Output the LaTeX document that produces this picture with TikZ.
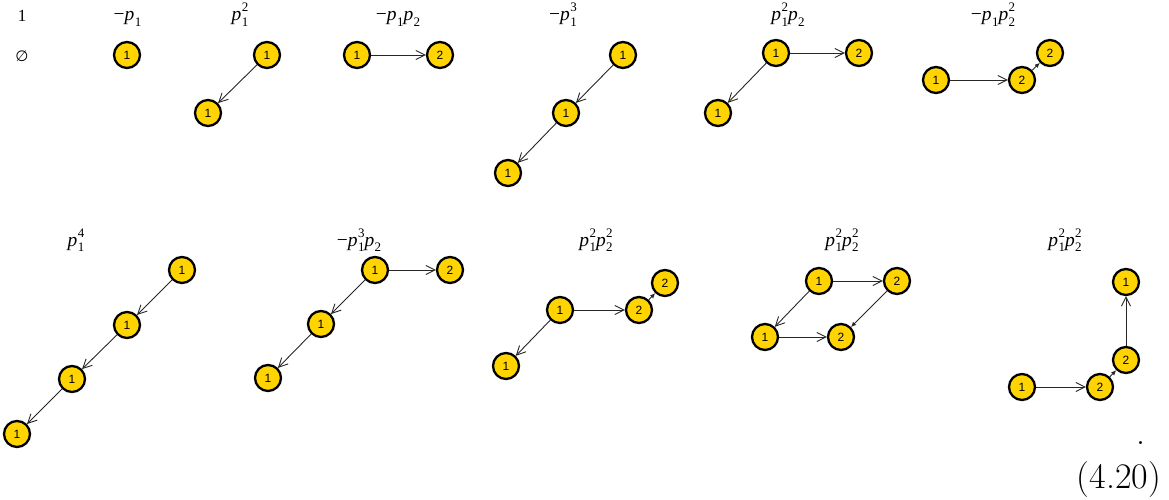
\documentclass[tikz,border=0pt]{standalone}
\usepackage{fontspec}
\newfontfamily\tms{Liberation Serif}
\newfontfamily\arl{Liberation Sans}
\newfontfamily\djs{DejaVu Sans}
\usetikzlibrary{arrows.meta}
\definecolor{nodegold}{RGB}{255,212,0}
\newcommand\smallfig[1]{{\fontsize{13}{13}\selectfont #1}}
\newcommand\pa[1]{{\itshape p}\kern0.3pt\raisebox{-5.5pt}{\smallfig{#1}}}
\newcommand\pb[2]{{\itshape p}\kern0.3pt\raisebox{-5.5pt}{\rlap{\smallfig{#1}}}\raisebox{9pt}{\smallfig{#2}}}
\newcommand\mn{−}
\tikzset{
  vtx/.style={circle, draw=black, line width=2.3pt, fill=nodegold, minimum size=26pt, inner sep=0pt, font=\arl\fontsize{12}{12}\selectfont},
  edg/.style={line width=0.9pt, draw=black!85, -{Straight Barb[length=9pt,width=9pt,line width=0.9pt]}},
  sedg/.style={line width=0.9pt, draw=black!85, -{Latex[length=5pt,width=4.5pt]}},
  lab/.style={anchor=base, font=\tms\fontsize{19.5}{22}\selectfont, inner sep=0pt},
  plain/.style={anchor=base, inner sep=0pt},
}
\begin{document}
\begin{tikzpicture}[x=1pt,y=-1pt]
\useasboundingbox (0,0) rectangle (1169,500);
% top-left
\node[plain, font=\tms\fontsize{17}{17}\selectfont] (one) at (22,22) {1};
\node[plain, font=\djs\fontsize{15}{15}\selectfont] (empty) at (22,62) {∅};
% labels row 1
\node[lab] (la) at (127.5,21) {\mn\pa{1}};
\node[lab] (lb) at (240,21) {\pb{1}{2}};
\node[lab] (lc) at (398,21) {\mn\pa{1}\pa{2}};
\node[lab] (ld) at (563,21) {\mn\pb{1}{3}};
\node[lab] (le) at (788,21) {\pb{1}{2}\pa{2}};
\node[lab] (lf) at (993,21) {\mn\pa{1}\pb{2}{2}};
% labels row 2
\node[lab] (lg) at (76,246) {\pb{1}{4}};
\node[lab] (lh) at (359,246) {\mn\pb{1}{3}\pa{2}};
\node[lab] (li) at (596,246) {\pb{1}{2}\pb{2}{2}};
\node[lab] (lj) at (842,246) {\pb{1}{2}\pb{2}{2}};
\node[lab] (lk) at (1065,246) {\pb{1}{2}\pb{2}{2}};
% row 1 graphs
\node[vtx] (a1) at (127,55) {1};
\node[vtx] (b1) at (267,55) {1};
\node[vtx] (b2) at (208,113) {1};
\draw[edg] (b1) -- (b2);
\node[vtx] (c1) at (357,55) {1};
\node[vtx] (c2) at (440,55) {2};
\draw[edg] (c1) -- (c2);
\node[vtx] (d1) at (623,55) {1};
\node[vtx] (d2) at (566,113) {1};
\node[vtx] (d3) at (508,173) {1};
\draw[edg] (d1) -- (d2);
\draw[edg] (d2) -- (d3);
\node[vtx] (e1) at (776,53) {1};
\node[vtx] (e2) at (859,53) {2};
\node[vtx] (e3) at (718,113) {1};
\draw[edg] (e1) -- (e2);
\draw[edg] (e1) -- (e3);
\node[vtx] (f1) at (936,80) {1};
\node[vtx] (f2) at (1022,80) {2};
\node[vtx] (f3) at (1050,53) {2};
\draw[edg] (f1) -- (f2);
\draw[sedg] (f2) -- (f3);
% row 2 graphs
\node[vtx] (g1) at (182,270) {1};
\node[vtx] (g2) at (127,325) {1};
\node[vtx] (g3) at (72,379) {1};
\node[vtx] (g4) at (17,434) {1};
\draw[edg] (g1) -- (g2);
\draw[edg] (g2) -- (g3);
\draw[edg] (g3) -- (g4);
\node[vtx] (h1) at (375,270) {1};
\node[vtx] (h2) at (450,270) {2};
\node[vtx] (h3) at (321,324) {1};
\node[vtx] (h4) at (268,378) {1};
\draw[edg] (h1) -- (h2);
\draw[edg] (h1) -- (h3);
\draw[edg] (h3) -- (h4);
\node[vtx] (i1) at (560,310) {1};
\node[vtx] (i2) at (639,310) {2};
\node[vtx] (i3) at (665,283) {2};
\node[vtx] (i4) at (506,366) {1};
\draw[edg] (i1) -- (i2);
\draw[sedg] (i2) -- (i3);
\draw[edg] (i1) -- (i4);
\node[vtx] (j1) at (819,281) {1};
\node[vtx] (j2) at (897,281) {2};
\node[vtx] (j3) at (765,337) {1};
\node[vtx] (j4) at (841,337) {2};
\draw[edg] (j1) -- (j2);
\draw[edg] (j1) -- (j3);
\draw[edg] (j3) -- (j4);
\draw[sedg] (j2) -- (j4);
\node[vtx] (k1) at (1022,387) {1};
\node[vtx] (k2) at (1100,387) {2};
\node[vtx] (k3) at (1126,360) {2};
\node[vtx] (k4) at (1126,282) {1};
\draw[edg] (k1) -- (k2);
\draw[sedg] (k2) -- (k3);
\draw[edg] (k3) -- (k4);
% equation number
\node[plain, font=\fontsize{36}{40}\selectfont] (dot) at (1141,444) {.};
\node[plain, font=\fontsize{36}{40}\selectfont] (eqno) at (1119,488) {(4.20)};
\end{tikzpicture}
\end{document}
